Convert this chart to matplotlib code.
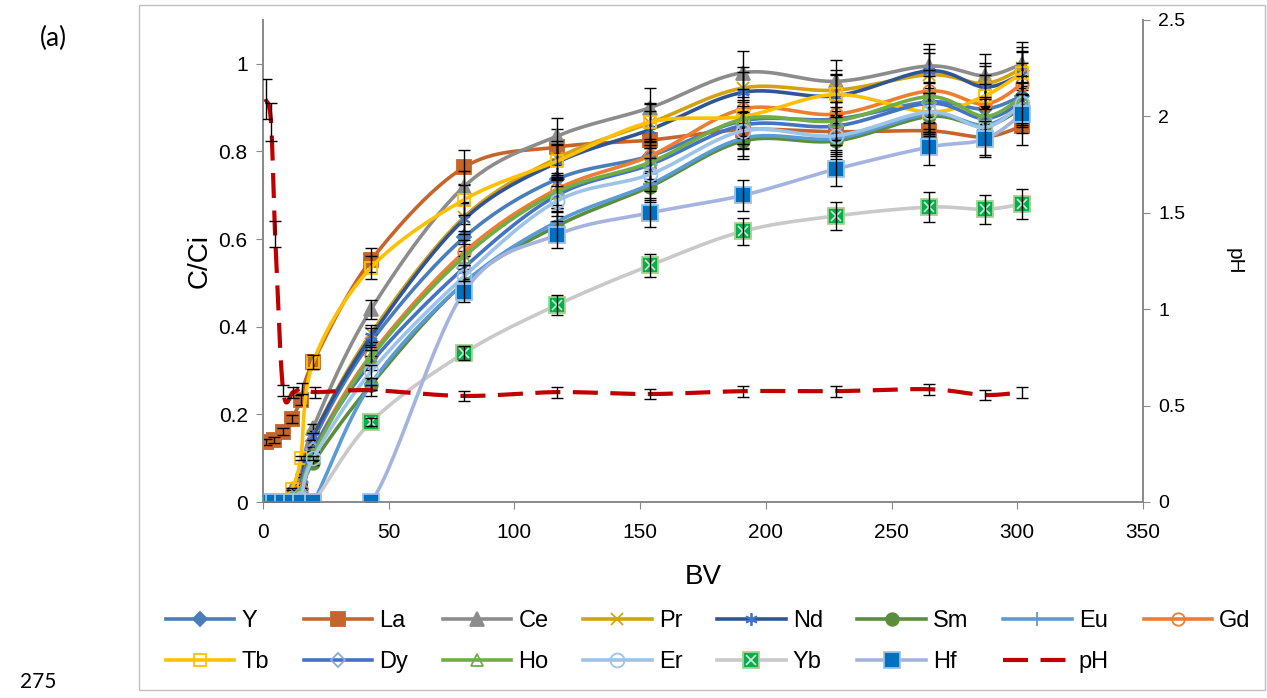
import numpy as np
import matplotlib.pyplot as plt
from matplotlib.lines import Line2D
from matplotlib.patches import Rectangle
from matplotlib.legend_handler import HandlerTuple

plt.rcParams['font.family'] = ['Liberation Sans', 'DejaVu Sans']

# bed volumes where samples were taken
bv = [1, 4.5, 8, 11.5, 15, 20, 43, 80, 117, 154, 191, 228, 265, 287, 302]

# C/Ci for each element
Y  = [0, 0, 0, 0.01, 0.03, 0.14, 0.366, 0.604, 0.737, 0.79, 0.87, 0.874, 0.913, 0.897, 0.927]
La = [0.137, 0.142, 0.16, 0.19, 0.233, 0.32, 0.552, 0.764, 0.81, 0.826, 0.85, 0.845, 0.847, 0.833, 0.858]
Ce = [0, 0, 0, 0.03, 0.06, 0.17, 0.44, 0.72, 0.835, 0.90, 0.98, 0.96, 0.995, 0.973, 1.0]
Pr = [0, 0, 0, 0.01, 0.04, 0.15, 0.385, 0.65, 0.785, 0.865, 0.945, 0.94, 0.975, 0.955, 0.99]
Nd = [0, 0, 0, 0.01, 0.04, 0.15, 0.378, 0.645, 0.775, 0.85, 0.935, 0.927, 0.984, 0.947, 0.977]
Sm = [0, 0, 0, 0, 0.02, 0.09, 0.268, 0.50, 0.63, 0.72, 0.824, 0.824, 0.88, 0.858, 0.90]
Eu = [0, 0, 0, 0, 0, 0, 0.27, 0.50, 0.64, 0.725, 0.83, 0.83, 0.885, 0.86, 0.905]
Gd = [0, 0, 0, 0.01, 0.03, 0.12, 0.336, 0.57, 0.714, 0.79, 0.897, 0.885, 0.938, 0.908, 0.954]
Tb = [0, 0, 0, 0.03, 0.10, 0.32, 0.535, 0.69, 0.778, 0.867, 0.88, 0.93, 0.89, 0.927, 0.98]
Dy = [0, 0, 0, 0.01, 0.02, 0.12, 0.318, 0.535, 0.70, 0.77, 0.86, 0.858, 0.91, 0.875, 0.913]
Ho = [0, 0, 0, 0.01, 0.02, 0.11, 0.33, 0.56, 0.707, 0.775, 0.874, 0.87, 0.925, 0.88, 0.925]
Er = [0, 0, 0, 0, 0.01, 0.10, 0.298, 0.515, 0.687, 0.748, 0.847, 0.836, 0.89, 0.855, 0.91]
Yb = [0, 0, 0, 0, 0, 0, 0.183, 0.34, 0.45, 0.54, 0.618, 0.653, 0.673, 0.668, 0.68]
Hf = [0, 0, 0, 0, 0, 0, 0, 0.48, 0.61, 0.66, 0.70, 0.76, 0.81, 0.828, 0.886]

# pH of the effluent
ph_bv = [1, 3.2, 4.8, 8, 12, 15.5, 20.7, 43, 80, 117, 154, 191, 228, 265, 287, 302]
ph = [2.09, 1.97, 1.39, 0.58, 0.57, 0.59, 0.57, 0.58, 0.55, 0.57, 0.56, 0.575, 0.575, 0.585, 0.555, 0.57]

err_frac = 0.05  # 5 % error bars

# name, data, line colour, marker, marker face, marker edge, marker size
series = [
    ('Y',  Y,  '#4A7EBB', 'D', '#4A7EBB', '#4A7EBB', 7),
    ('La', La, '#C5652B', 's', '#C5652B', '#C5652B', 10),
    ('Ce', Ce, '#8C8C8C', '^', '#8C8C8C', '#8C8C8C', 10),
    ('Pr', Pr, '#D4A20E', 'x', '#D4A20E', '#D4A20E', 8),
    ('Nd', Nd, '#2F5597', (6, 2, 0), '#2F5597', '#4472C4', 9),
    ('Sm', Sm, '#5A8E3A', 'o', '#5A8E3A', '#5A8E3A', 9),
    ('Eu', Eu, '#5B9BD5', '+', '#5B9BD5', '#5B9BD5', 10),
    ('Gd', Gd, '#ED7D31', 'o', 'none', '#ED7D31', 9),
    ('Tb', Tb, '#FFC000', 's', 'none', '#FFC000', 9),
    ('Dy', Dy, '#4472C4', 'D', 'none', '#8EA9DB', 7),
    ('Ho', Ho, '#70AD47', '^', 'none', '#70AD47', 9),
    ('Er', Er, '#9DC3E6', 'o', 'none', '#9DC3E6', 10),
    ('Yb', Yb, '#C9C9C9', 's', '#00B050', '#A9D18E', 11),
    ('Hf', Hf, '#A5B4DE', 's', '#0070C0', '#9DC3E6', 11),
]


def excel_smooth(x, y, n=30):
    # cubic bezier through the points, like Excel's "smoothed line"
    x = np.asarray(x, float)
    y = np.asarray(y, float)
    px = np.r_[x[0], x, x[-1]]
    py = np.r_[y[0], y, y[-1]]
    t = np.linspace(0, 1, n)[1:, None]
    out = [np.array([[x[0], y[0]]])]
    for i in range(len(x) - 1):
        p0 = np.array([px[i], py[i]])
        p1 = np.array([px[i + 1], py[i + 1]])
        p2 = np.array([px[i + 2], py[i + 2]])
        p3 = np.array([px[i + 3], py[i + 3]])
        c1 = p1 + (p2 - p0) / 6
        c2 = p2 - (p3 - p1) / 6
        seg = ((1 - t) ** 3) * p1 + 3 * ((1 - t) ** 2) * t * c1 + 3 * (1 - t) * t ** 2 * c2 + t ** 3 * p2
        out.append(seg)
    pts = np.vstack(out)
    return pts[:, 0], pts[:, 1]


fig = plt.figure(figsize=(12.67, 6.98), dpi=100)
W, H = 1267, 698
ax = fig.add_axes([263 / W, 1 - 502 / H, (1143 - 263) / W, (502 - 20) / H])
ax2 = ax.twinx()

handles = {}
for i, (name, vals, lc, mk, mfc, mec, ms) in enumerate(series):
    sx, sy = excel_smooth(bv, vals)
    z = 2 + i * 0.1
    ax.plot(sx, sy, color=lc, lw=2.6, zorder=z, solid_capstyle='round')
    ax.plot(bv, vals, ls='none', marker=mk, ms=ms, mfc=mfc, mec=mec, mew=1.3, zorder=z + 0.02)
    h = Line2D([], [], color=lc, lw=2.6, marker=mk, ms=ms, mfc=mfc, mec=mec, mew=1.3)
    if name == 'Yb':
        ax.plot(bv, vals, ls='none', marker='x', ms=7, mec='#D9EAD3', mew=1.2, zorder=z + 0.03)
        h = (h, Line2D([], [], ls='none', marker='x', ms=7, mec='#D9EAD3', mew=1.2))
    v = np.asarray(vals)
    ax.errorbar(bv, v, yerr=err_frac * v, fmt='none', ecolor='black', elinewidth=1,
                capsize=4, capthick=1, zorder=z + 0.04)
    handles[name] = h

sx, sy = excel_smooth(ph_bv, ph)
ax2.plot(sx, sy, color='#C00000', lw=3, ls=(0, (6, 3)), zorder=3)
ph_arr = np.asarray(ph)
ax2.errorbar(ph_bv, ph_arr, yerr=err_frac * ph_arr, fmt='none', ecolor='black', elinewidth=1,
             capsize=4, capthick=1, zorder=4)
handles['pH'] = Line2D([], [], color='#C00000', lw=3, ls=(0, (6, 3)))

ax.set_xlim(0, 350)
ax.set_ylim(0, 1.1)
ax2.set_ylim(0, 2.5)
ax.set_xticks(np.arange(0, 351, 50))
ax.set_yticks([0, 0.2, 0.4, 0.6, 0.8, 1.0])
ax.set_yticklabels(['0', '0.2', '0.4', '0.6', '0.8', '1'])
ax2.set_yticks([0, 0.5, 1, 1.5, 2, 2.5])
ax2.set_yticklabels(['0', '0.5', '1', '1.5', '2', '2.5'])

spine_c = '#898989'
for a in (ax, ax2):
    a.spines['top'].set_visible(False)
    for s in ('left', 'right', 'bottom'):
        a.spines[s].set_color(spine_c)
        a.spines[s].set_linewidth(1.2)
ax.tick_params(axis='y', direction='out', length=5, color=spine_c, labelsize=15, pad=6)
ax.tick_params(axis='x', direction='out', length=5, color=spine_c, labelsize=15, pad=10)
ax2.tick_params(axis='y', direction='out', length=5, color=spine_c, labelsize=14, pad=6)

ax.set_xlabel('BV', fontsize=20, labelpad=16)
ax.set_ylabel('C/Ci', fontsize=20, labelpad=4)
ax2.set_ylabel('pH', fontsize=15, rotation=270, labelpad=42)

# legend laid out row by row like the original (matplotlib fills columns)
row1 = ['Y', 'La', 'Ce', 'Pr', 'Nd', 'Sm', 'Eu', 'Gd']
row2 = ['Tb', 'Dy', 'Ho', 'Er', 'Yb', 'Hf', 'pH']
order = []
for i in range(8):
    order.append(row1[i])
    if i < len(row2):
        order.append(row2[i])
fig.legend([handles[k] for k in order], order, loc='center', bbox_to_anchor=(0.559, 0.081),
           ncol=8, frameon=False, fontsize=17, handlelength=2.9, handletextpad=0.3,
           columnspacing=1.47, labelspacing=0.8,
           handler_map={tuple: HandlerTuple(ndivide=1, pad=0)})

# outer chart frame and side text
fig.add_artist(Rectangle((139 / W, 1 - 690 / H), (1265 - 139) / W, (690 - 5) / H,
                         transform=fig.transFigure, fill=False, ec='#BFBFBF', lw=1))
fig.text(40 / W, 1 - 38 / H, '(a)', fontsize=19, family='Lato', ha='left', va='center')
fig.text(20 / W, 1 - 682 / H, '275', fontsize=15, family='Lato', ha='left', va='center')

plt.savefig('out.png', dpi=100)
